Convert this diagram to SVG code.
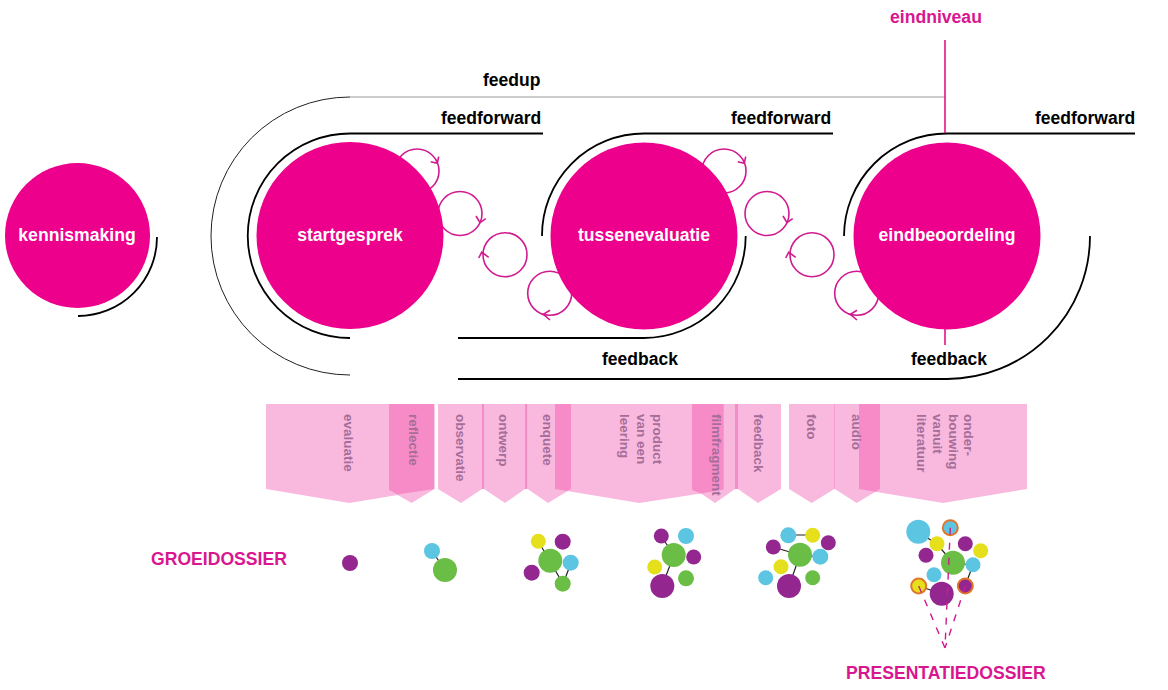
<svg xmlns="http://www.w3.org/2000/svg" width="1168" height="690" viewBox="0 0 1168 690">
<style>
text{font-family:"Liberation Sans",Arial,sans-serif;font-weight:700}
.lbl{font-size:17.5px;fill:#000}
.pk{font-size:17.6px;fill:#d9168f}
.wh{font-size:17.6px;fill:#fff;text-anchor:middle}
.tp{font-size:13.5px;fill:#a56d98}
.big{fill:#ec008c}
.arc{fill:none;stroke:#000;stroke-width:1.8}
.thin{fill:none;stroke:#222;stroke-width:1}
.pl{fill:none;stroke:#d01a90;stroke-width:1.6}
.tab{fill:#f9b9df}
.ov{fill:#f78bc8}
.lk{stroke:#222;stroke-width:1.2;fill:none}
.dash{stroke:#d01a90;stroke-width:1.4;stroke-dasharray:7 8;fill:none}
.pu{fill:#93278f}.gr{fill:#6abd45}.bl{fill:#5bc5e2}.ye{fill:#e5e01b}
.ring{stroke:#e0762d;stroke-width:2}
</style>
<defs>
<g id="loops">
<circle class="pl" cx="417" cy="171" r="22"/>
<polyline class="pl" points="430.7,161.7 437.3,163.3 438.7,156.7"/>
<circle class="pl" cx="460" cy="213.5" r="22"/>
<polyline class="pl" points="476,216 480,222.7 485.7,218.7"/>
<circle class="pl" cx="505" cy="254.7" r="22"/>
<polyline class="pl" points="478.7,258 481.7,252.3 488.7,257.3"/>
<circle class="pl" cx="549.7" cy="293.3" r="22"/>
<polyline class="pl" points="550,310.3 543.3,314.3 550,320"/>
</g>
</defs>
<g id="connectors">
<use href="#loops"/>
<use href="#loops" x="307"/>
<path class="arc" d="M157,237A79,79 0 0 1 78,316"/>
<path class="arc" d="M543,133.5H350A102,102 0 0 0 350,338"/>
<path class="arc" d="M542,236A102,102 0 0 1 644,133.5H833"/>
<path class="arc" d="M844,236A103,103 0 0 1 947,133.5H1135"/>
<path class="arc" d="M458,338H644A102,102 0 0 0 745.7,236"/>
<path class="arc" d="M458,379H947A143,143 0 0 0 1090,236"/>
<path class="thin" d="M350,375A139,139 0 0 1 350,97"/>
<path fill="none" stroke="#999" stroke-width="1.2" d="M350,97H945"/>
<path fill="none" stroke="#e0148c" stroke-width="1.6" d="M945,40V133M945,328V345"/>
<path class="lk" d="M432,551L445,570M538,541L550,561L563,584M571,563L563,584M661,536L674,555L662,586M788,535H813M773,547L800,555L820,557M800,555L789,586M918,532L937,544L953,563L973,565L965,586M919,586L942,594"/>
</g>
<g id="kennismaking"><circle class="big" cx="77.5" cy="235.5" r="72.5"/><text class="wh" x="77" y="240.5">kennismaking</text></g>
<g id="startgesprek"><circle class="big" cx="350" cy="235.5" r="93.5"/><text class="wh" x="350" y="240.5">startgesprek</text></g>
<g id="tussenevaluatie"><circle class="big" cx="644" cy="236" r="93.5"/><text class="wh" x="644" y="240.5">tussenevaluatie</text></g>
<g id="eindbeoordeling"><circle class="big" cx="947" cy="236" r="93.5"/><text class="wh" x="947" y="240.5">eindbeoordeling</text></g>
<g id="labels">
<text class="pk" x="890" y="23">eindniveau</text>
<text class="lbl" x="483" y="86">feedup</text>
<text class="lbl" x="441" y="124">feedforward</text>
<text class="lbl" x="731" y="124">feedforward</text>
<text class="lbl" x="1035" y="124">feedforward</text>
<text class="lbl" x="602" y="365">feedback</text>
<text class="lbl" x="911" y="365">feedback</text>
<text class="pk" x="151" y="565">GROEIDOSSIER</text>
<text class="pk" x="846" y="679">PRESENTATIEDOSSIER</text>
</g>
<g id="tabs">
<polygon class="tab" points="266,404 434.3,404 434.3,489 411.7,503 397.5,495 349.3,503 266,489"/>
<polygon class="ov" points="389,404 434.3,404 434.3,489 397.5,494.5 389,490"/>
<polygon class="tab" points="438,404 482,404 482,489 461,503 438,489"/>
<rect class="ov" x="482" y="404" width="2.4" height="85"/>
<polygon class="tab" points="484,404 525,404 525,489 505,503 484,489"/>
<rect class="ov" x="525" y="404" width="2.7" height="85"/>
<polygon class="tab" points="527.7,404 571,404 571,489 548,503 527.7,489"/>
<polygon class="tab" points="555,404 724,404 735,404 735,489 715,503 701,493.5 639.3,503 555,489"/>
<polygon class="ov" points="555,404 571,404 571,489 567,491 555,489"/>
<polygon class="ov" points="692,404 723.7,404 723.7,489.5 701,493.5 692,490"/>
<rect class="ov" x="735" y="404" width="3" height="85"/>
<polygon class="tab" points="738,404 781,404 781,489 758,503 738,489"/>
<polygon class="tab" points="789,404 834.3,404 834.3,489 811.7,503 789,489"/>
<polygon class="tab" points="834.8,404 880,404 880,489 856.7,503 834.8,489"/>
<rect class="ov" x="834" y="404" width="0.8" height="85"/>
<polygon class="tab" points="858.7,404 1027,404 1027,489 943,503 875.3,491.8 858.7,489"/>
<polygon class="ov" points="859,404 880,404 880,489 875.3,491.8 859,489"/>
<g>
<text class="tp" transform="translate(344,414) rotate(90)">evaluatie</text>
<text class="tp" transform="translate(409,414) rotate(90)">reflectie</text>
<text class="tp" transform="translate(456,414) rotate(90)">observatie</text>
<text class="tp" transform="translate(499,414) rotate(90)">ontwerp</text>
<text class="tp" transform="translate(543,414) rotate(90)">enquete</text>
<text class="tp" transform="translate(653,414) rotate(90)">product</text>
<text class="tp" transform="translate(637,414) rotate(90)">van een</text>
<text class="tp" transform="translate(620,414) rotate(90)">leering</text>
<text class="tp" transform="translate(712,414) rotate(90)">filmfragment</text>
<text class="tp" transform="translate(754,414) rotate(90)">feedback</text>
<text class="tp" transform="translate(807,414) rotate(90)">foto</text>
<text class="tp" transform="translate(852,414) rotate(90)">audio</text>
<text class="tp" transform="translate(964,414) rotate(90)">onder-</text>
<text class="tp" transform="translate(949,414) rotate(90)">bouwing</text>
<text class="tp" transform="translate(933,414) rotate(90)">vanuit</text>
<text class="tp" transform="translate(917,414) rotate(90)">literatuur</text>
</g>
</g>
<g id="dossier1"><circle class="pu" cx="350" cy="563" r="8"/></g>
<g id="dossier2"><circle class="bl" cx="432" cy="551" r="8"/><circle class="gr" cx="445" cy="570" r="12"/></g>
<g id="dossier3">
<circle class="ye" cx="538.3" cy="541.3" r="7.5"/><circle class="pu" cx="562.7" cy="541.7" r="8"/><circle class="gr" cx="550.3" cy="560.7" r="12"/><circle class="bl" cx="570.7" cy="562.7" r="8"/><circle class="pu" cx="531.7" cy="572.7" r="8"/><circle class="gr" cx="562.7" cy="583.7" r="8"/>
</g>
<g id="dossier4">
<circle class="pu" cx="661.3" cy="536" r="7.5"/><circle class="bl" cx="686" cy="536" r="8"/><circle class="gr" cx="673.7" cy="555" r="12"/><circle class="pu" cx="693.7" cy="557" r="7.5"/><circle class="ye" cx="654.7" cy="567" r="7.5"/><circle class="gr" cx="686" cy="578.3" r="8"/><circle class="pu" cx="662.3" cy="586" r="12"/>
</g>
<g id="dossier5">
<circle class="bl" cx="788.3" cy="535.3" r="8"/><circle class="ye" cx="812.7" cy="535.3" r="7.5"/><circle class="pu" cx="828.3" cy="542.7" r="7.5"/><circle class="pu" cx="773.3" cy="547" r="7.5"/><circle class="gr" cx="800" cy="554.7" r="12"/><circle class="bl" cx="820.3" cy="556.7" r="8"/><circle class="ye" cx="781" cy="566.7" r="7.5"/><circle class="bl" cx="765.7" cy="577.7" r="7.5"/><circle class="gr" cx="812.7" cy="577.7" r="7.5"/><circle class="pu" cx="789" cy="586" r="12"/>
</g>
<g id="dossier6">
<circle class="bl" cx="918.3" cy="531.7" r="12"/><circle class="bl ring" cx="950.3" cy="527.7" r="7.5"/><circle class="ye" cx="937" cy="543.7" r="7.5"/><circle class="pu" cx="965.3" cy="543.7" r="7.5"/><circle class="ye" cx="980.7" cy="550.7" r="7.5"/><circle class="pu" cx="926" cy="555.3" r="7.5"/><circle class="gr" cx="953" cy="562.7" r="12"/><circle class="bl" cx="973" cy="564.7" r="7.5"/><circle class="bl" cx="934" cy="574.7" r="7.5"/><circle class="ye ring" cx="918.7" cy="586" r="7.5"/><circle class="pu" cx="941.7" cy="593.7" r="12"/><circle class="pu ring" cx="965.3" cy="586" r="7.5"/>
</g>
<g id="dashed-connectors">
<path class="dash" d="M950.3,527.7L945,648M918.7,586L945,648M965.3,586L945,648"/>
</g>
</svg>
